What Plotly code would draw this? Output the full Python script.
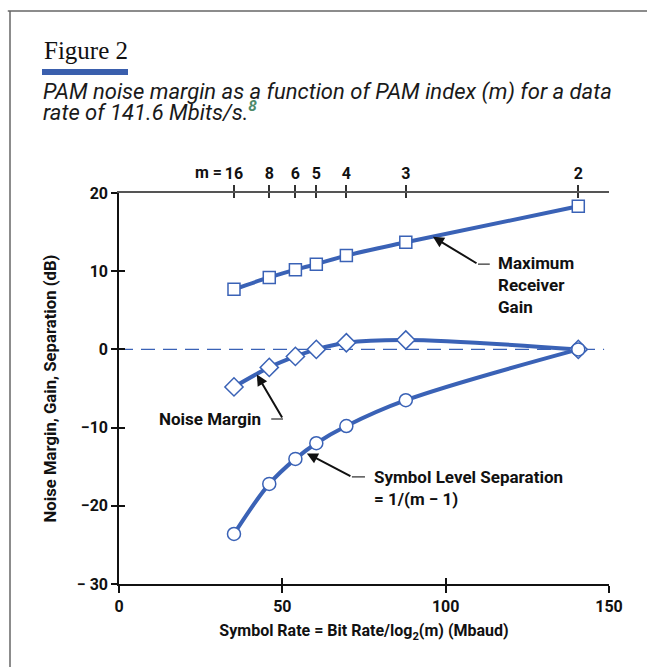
import plotly.graph_objects as go

# ---- data ----
m_labels = ["16", "8", "6", "5", "4", "3", "2"]
symbol_rate = [35.2, 46.0, 54.0, 60.4, 69.6, 87.8, 140.6]          # Mbaud
max_receiver_gain = [7.7, 9.2, 10.2, 10.9, 12.0, 13.7, 18.3]       # dB
noise_margin = [-4.8, -2.3, -0.9, 0.0, 0.85, 1.2, 0.0]             # dB
symbol_level_sep = [-23.6, -17.2, -14.0, -12.0, -9.8, -6.5, 0.0]   # dB
x_ticks = [0, 50, 100, 150]
y_ticks = [-30, -20, -10, 0, 10, 20]
y_ticktext = ["\u2212 30", "\u221220", "\u221210", "0", "10", "20"]

BLUE = "#3a62b6"
NARROW = "Roboto, Liberation Sans, sans-serif"

fig = go.Figure()

def series(y, symbol, size):
    fig.add_trace(go.Scatter(
        x=symbol_rate, y=y, mode="lines+markers",
        line=dict(color=BLUE, width=4, shape="spline", smoothing=1.0),
        marker=dict(symbol=symbol, size=size, color="white",
                    line=dict(color=BLUE, width=1.5)),
        showlegend=False, hoverinfo="skip"))

series(max_receiver_gain, "square", 12)
series(noise_margin, "diamond", 14)
series(symbol_level_sep, "circle", 13)

# invisible traces so the overlay axes (crossing ticks, top axis) render
for xa, ya in [("x2", "y"), ("x3", "y"), ("x4", "y"), ("x", "y2")]:
    fig.add_trace(go.Scatter(x=symbol_rate, y=max_receiver_gain, xaxis=xa, yaxis=ya,
                             mode="markers", marker=dict(opacity=0),
                             showlegend=False, hoverinfo="skip"))

tickfont = dict(family=NARROW, size=16, color="#111", weight="bold")
titlefont = dict(family=NARROW, size=16, color="#111", weight="bold")
fig.update_layout(
    width=647, height=667,
    margin=dict(l=119, r=38, t=193, b=83),
    paper_bgcolor="white", plot_bgcolor="white",
    font=dict(family=NARROW, color="#111"),
    xaxis=dict(range=[0, 150], tickvals=x_ticks, ticks="outside", ticklen=7,
               tickwidth=1.5, tickcolor="#111", showline=True, linecolor="#111",
               linewidth=1.5, showgrid=False, zeroline=False, tickfont=tickfont,
               title=dict(text="Symbol Rate = Bit Rate/log<sub>2</sub>(m) (Mbaud)",
                          font=titlefont, standoff=10)),
    xaxis3=dict(overlaying="x", range=[0, 150], tickvals=x_ticks, ticks="inside",
                ticklen=6, tickwidth=1.5, tickcolor="#111", showticklabels=False,
                showline=False, showgrid=False, zeroline=False),
    xaxis2=dict(overlaying="x", side="top", anchor="y", range=[0, 150],
                tickvals=symbol_rate, ticktext=m_labels,
                ticks="outside", ticklen=6, tickwidth=1.5, tickcolor="#333",
                showline=True, linecolor="#555", linewidth=1.5, showgrid=False,
                zeroline=False, tickfont=tickfont),
    xaxis4=dict(overlaying="x", side="top", anchor="y", range=[0, 150],
                tickvals=symbol_rate, ticks="inside", ticklen=5, tickwidth=1.5,
                tickcolor="#333", showticklabels=False, showline=False,
                showgrid=False, zeroline=False),
    yaxis=dict(range=[-30, 20], tickvals=y_ticks, ticktext=y_ticktext,
               ticks="outside", ticklen=6, tickwidth=1.5, tickcolor="#111",
               showline=True, linecolor="#111", linewidth=1.5, showgrid=False,
               zeroline=False, tickfont=tickfont,
               title=dict(text="Noise Margin, Gain, Separation (dB)",
                          font=dict(family=NARROW, size=16.7, color="#111", weight="bold"),
                          standoff=16)),
    yaxis2=dict(overlaying="y", range=[-30, 20], tickvals=y_ticks, ticks="inside",
                ticklen=6, tickwidth=1.5, tickcolor="#111", showticklabels=False,
                showline=False, showgrid=False, zeroline=False),
)

# zero reference line (dashed)
fig.add_shape(type="line", xref="x", yref="y", x0=0, x1=148.5, y0=0, y1=0,
              line=dict(color=BLUE, width=1.2, dash="14px,8px"), layer="below")

# frame lines (top and left)
fig.add_shape(type="line", xref="paper", yref="paper", x0=-0.227, x1=1.09,
              y0=(584 - 11) / 391, y1=(584 - 11) / 391, line=dict(color="#666", width=1.5))
fig.add_shape(type="line", xref="paper", yref="paper", x0=(10 - 119) / 490, x1=(10 - 119) / 490,
              y0=(584 - 11) / 391, y1=-0.25, line=dict(color="#666", width=1.5))

# title block
fig.add_annotation(xref="paper", yref="paper", x=(42 - 119) / 490, y=(584 - 50) / 391,
                   xanchor="left", yanchor="middle", showarrow=False,
                   text="Figure 2",
                   font=dict(family="Liberation Serif, serif", size=25, color="#111"))
fig.add_shape(type="rect", xref="paper", yref="paper", x0=(42 - 119) / 490, x1=(128 - 119) / 490,
              y0=(584 - 75) / 391, y1=(584 - 69) / 391, fillcolor="#3a5fad", line=dict(width=0))
fig.add_annotation(xref="paper", yref="paper", x=(41 - 119) / 490, y=(584 - 92) / 391,
                   xanchor="left", yanchor="middle", showarrow=False,
                   text="<i>PAM noise margin as a function of PAM index (m) for a data</i>",
                   font=dict(family=NARROW, size=22, color="#1a1a1a"))
fig.add_annotation(xref="paper", yref="paper", x=(41 - 119) / 490, y=(584 - 111) / 391,
                   xanchor="left", yanchor="middle", showarrow=False,
                   text="<i>rate of 141.6 Mbits/s.<sup><b><span style='color:#4f8a6b'>8</span></b></sup></i>",
                   font=dict(family=NARROW, size=22, color="#1a1a1a"))

# "m =" prefix on the top axis
fig.add_annotation(xref="x2", yref="paper", x=symbol_rate[0], y=(584 - 172) / 391,
                   xanchor="right", yanchor="middle", xshift=-10, showarrow=False,
                   text="m =", font=tickfont)

labfont = dict(family=NARROW, size=17, color="#111", weight="bold")

def callout(text, tx, ty, anchor, tail, head, seg_end):
    fig.add_annotation(xref="x", yref="y", x=tx, y=ty, xanchor=anchor, yanchor="middle",
                       showarrow=False, text=text, font=labfont, align="left")
    fig.add_annotation(xref="x", yref="y", x=head[0], y=head[1], axref="x", ayref="y",
                       ax=tail[0], ay=tail[1], text="", showarrow=True, arrowhead=2,
                       arrowsize=1.1, arrowwidth=2, arrowcolor="#111", standoff=0)
    fig.add_shape(type="line", xref="x", yref="y", x0=tail[0], x1=seg_end, y0=tail[1], y1=tail[1],
                  line=dict(color="#555", width=1.5))

callout("Maximum<br>Receiver<br>Gain", 115.5, 8.2, "left", (109.9, 10.9), (96.1, 14.4), 113.5)
callout("Noise Margin", 44.0, -8.9, "right", (50.2, -8.9), (42.2, -3.2), 46.6)
callout("Symbol Level Separation<br>= 1/(m \u2212 1)", 77.6, -17.7, "left",
        (71.3, -16.3), (57.5, -13.3), 75.3)

fig.write_html("out.html")
